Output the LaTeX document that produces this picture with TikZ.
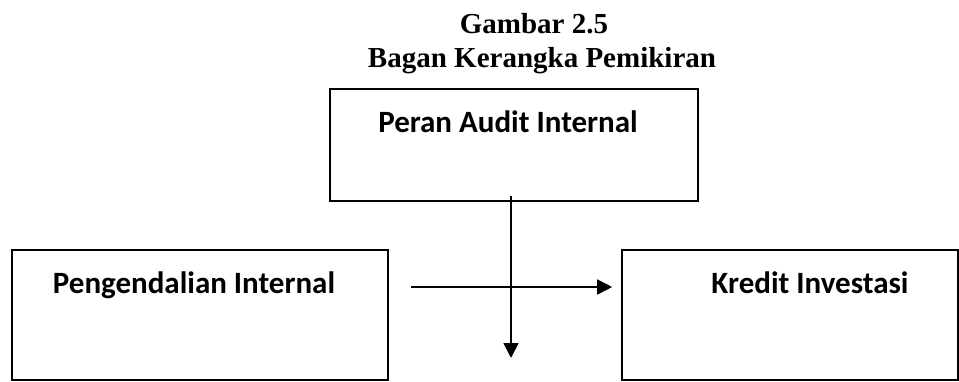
\documentclass[tikz,border=0pt]{standalone}
\usepackage{fontspec}
\setmainfont{Liberation Serif}
\newfontfamily\kotakfont{Carlito}
\usetikzlibrary{positioning}
\usetikzlibrary{arrows.meta}
\usetikzlibrary{calc}

\tikzset{
  kotak/.style={draw, line width=1.6pt, rectangle, inner sep=0pt},
  isi/.style={font=\kotakfont\bfseries\fontsize{31}{34}\selectfont, inner sep=0pt, anchor=base},
  judul/.style={font=\bfseries\fontsize{29}{32}\selectfont, inner sep=0pt, anchor=base},
  panah/.style={line width=1.8pt, -{Triangle[length=15pt,width=15pt]}}
}

\begin{document}
\begin{tikzpicture}[x=1pt,y=-1pt]
\useasboundingbox (0,0) rectangle (959,381);
% judul gambar
\node[judul] (gambar) at (534,33) {Gambar 2.5};
\node[judul] (bagan) at (542,67) {Bagan Kerangka Pemikiran};
% kotak variabel
\node[kotak, minimum width=368pt, minimum height=112pt] (peran) at (514,145) {};
\node[isi] (peranteks) at (508,132) {Peran Audit Internal};
\node[kotak, minimum width=376pt, minimum height=130pt] (pengendalian) at (200,315) {};
\node[isi] (pengendalianteks) at (194,293) {Pengendalian Internal};
\node[kotak, minimum width=336pt, minimum height=130pt] (kredit) at (790,315) {};
\node[isi] (kreditteks) at (810,293) {Kredit Investasi};
% ujung panah
\coordinate (bawah) at (511,358);
\coordinate (kiri) at (411,287);
\draw[panah] ([yshift=6pt]peran.south -| bawah) -- (bawah); % turun dari peran
\draw[panah] (kiri) -- ([xshift=-9pt]kredit.west |- kiri);
\end{tikzpicture}
\end{document}
